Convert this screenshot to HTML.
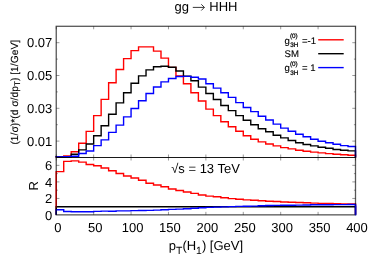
<!DOCTYPE html>
<html><head><meta charset="utf-8"><title>gg to HHH</title>
<style>
html,body{margin:0;padding:0;background:#fff;}
body{width:374px;height:262px;overflow:hidden;}
svg{display:block;font-family:"Liberation Sans",sans-serif;fill:#000;text-rendering:geometricPrecision;}
</style></head><body>
<svg width="374" height="262" viewBox="0 0 374 262">
<rect x="0" y="0" width="374" height="262" fill="#ffffff"/>
<g><path d="M56.25 157.50 L56.25 156.80 L63.73 156.80 L63.73 156.00 L71.21 156.00 L71.21 151.70 L78.69 151.70 L78.69 143.20 L86.17 143.20 L86.17 131.40 L93.66 131.40 L93.66 115.60 L101.14 115.60 L101.14 99.40 L108.62 99.40 L108.62 82.70 L116.10 82.70 L116.10 69.50 L123.58 69.50 L123.58 58.60 L131.06 58.60 L131.06 50.60 L138.54 50.60 L138.54 46.90 L146.03 46.90 L146.03 46.90 L153.51 46.90 L153.51 51.10 L160.99 51.10 L160.99 58.10 L168.47 58.10 L168.47 67.40 L175.95 67.40 L175.95 75.90 L183.43 75.90 L183.43 83.70 L190.91 83.70 L190.91 92.80 L198.39 92.80 L198.39 101.00 L205.88 101.00 L205.88 109.10 L213.36 109.10 L213.36 115.60 L220.84 115.60 L220.84 121.70 L228.32 121.70 L228.32 126.70 L235.80 126.70 L235.80 131.30 L243.28 131.30 L243.28 135.80 L250.76 135.80 L250.76 139.20 L258.24 139.20 L258.24 141.90 L265.73 141.90 L265.73 144.00 L273.21 144.00 L273.21 145.90 L280.69 145.90 L280.69 147.60 L288.17 147.60 L288.17 148.90 L295.65 148.90 L295.65 150.30 L303.13 150.30 L303.13 151.30 L310.61 151.30 L310.61 152.10 L318.09 152.10 L318.09 152.90 L325.57 152.90 L325.57 153.60 L333.06 153.60 L333.06 154.20 L340.54 154.20 L340.54 154.70 L348.02 154.70 L348.02 155.20 L355.50 155.20 L355.50 157.50" fill="none" stroke="#ff0000" stroke-width="1.4" stroke-linejoin="miter"/>
<path d="M56.25 157.50 L56.25 157.00 L63.73 157.00 L63.73 156.70 L71.21 156.70 L71.21 154.30 L78.69 154.30 L78.69 149.90 L86.17 149.90 L86.17 144.00 L93.66 144.00 L93.66 135.80 L101.14 135.80 L101.14 125.70 L108.62 125.70 L108.62 114.20 L116.10 114.20 L116.10 102.90 L123.58 102.90 L123.58 92.80 L131.06 92.80 L131.06 83.20 L138.54 83.20 L138.54 75.90 L146.03 75.90 L146.03 69.90 L153.51 69.90 L153.51 66.80 L160.99 66.80 L160.99 66.30 L168.47 66.30 L168.47 67.30 L175.95 67.30 L175.95 71.00 L183.43 71.00 L183.43 76.10 L190.91 76.10 L190.91 80.80 L198.39 80.80 L198.39 87.10 L205.88 87.10 L205.88 93.50 L213.36 93.50 L213.36 99.50 L220.84 99.50 L220.84 105.50 L228.32 105.50 L228.32 110.60 L235.80 110.60 L235.80 115.60 L243.28 115.60 L243.28 120.20 L250.76 120.20 L250.76 124.80 L258.24 124.80 L258.24 128.80 L265.73 128.80 L265.73 131.80 L273.21 131.80 L273.21 135.30 L280.69 135.30 L280.69 137.90 L288.17 137.90 L288.17 140.50 L295.65 140.50 L295.65 142.70 L303.13 142.70 L303.13 144.50 L310.61 144.50 L310.61 145.90 L318.09 145.90 L318.09 147.30 L325.57 147.30 L325.57 148.30 L333.06 148.30 L333.06 149.50 L340.54 149.50 L340.54 150.30 L348.02 150.30 L348.02 150.90 L355.50 150.90 L355.50 157.50" fill="none" stroke="#000000" stroke-width="1.4" stroke-linejoin="miter"/>
<path d="M56.25 157.50 L56.25 157.00 L63.73 157.00 L63.73 156.80 L71.21 156.80 L71.21 156.30 L78.69 156.30 L78.69 153.50 L86.17 153.50 L86.17 151.00 L93.66 151.00 L93.66 145.60 L101.14 145.60 L101.14 139.90 L108.62 139.90 L108.62 132.40 L116.10 132.40 L116.10 125.10 L123.58 125.10 L123.58 116.90 L131.06 116.90 L131.06 108.50 L138.54 108.50 L138.54 100.80 L146.03 100.80 L146.03 93.50 L153.51 93.50 L153.51 87.00 L160.99 87.00 L160.99 81.90 L168.47 81.90 L168.47 78.50 L175.95 78.50 L175.95 76.50 L183.43 76.50 L183.43 76.40 L190.91 76.40 L190.91 77.20 L198.39 77.20 L198.39 79.00 L205.88 79.00 L205.88 83.70 L213.36 83.70 L213.36 88.10 L220.84 88.10 L220.84 92.80 L228.32 92.80 L228.32 97.40 L235.80 97.40 L235.80 102.60 L243.28 102.60 L243.28 107.50 L250.76 107.50 L250.76 111.60 L258.24 111.60 L258.24 116.30 L265.73 116.30 L265.73 120.00 L273.21 120.00 L273.21 124.10 L280.69 124.10 L280.69 128.10 L288.17 128.10 L288.17 131.30 L295.65 131.30 L295.65 134.20 L303.13 134.20 L303.13 136.80 L310.61 136.80 L310.61 139.20 L318.09 139.20 L318.09 141.20 L325.57 141.20 L325.57 142.80 L333.06 142.80 L333.06 144.20 L340.54 144.20 L340.54 145.60 L348.02 145.60 L348.02 146.50 L355.50 146.50 L355.50 157.50" fill="none" stroke="#0000ff" stroke-width="1.4" stroke-linejoin="miter"/>
<path d="M56.25 214.85 L56.25 171.60 L63.73 171.60 L63.73 161.40 L71.21 161.40 L71.21 160.90 L78.69 160.90 L78.69 162.10 L86.17 162.10 L86.17 164.50 L93.66 164.50 L93.66 165.80 L101.14 165.80 L101.14 167.95 L108.62 167.95 L108.62 170.75 L116.10 170.75 L116.10 173.45 L123.58 173.45 L123.58 175.95 L131.06 175.95 L131.06 178.00 L138.54 178.00 L138.54 180.30 L146.03 180.30 L146.03 183.20 L153.51 183.20 L153.51 185.00 L160.99 185.00 L160.99 186.70 L168.47 186.70 L168.47 189.00 L175.95 189.00 L175.95 190.50 L183.43 190.50 L183.43 192.00 L190.91 192.00 L190.91 193.40 L198.39 193.40 L198.39 195.00 L205.88 195.00 L205.88 196.10 L213.36 196.10 L213.36 196.70 L220.84 196.70 L220.84 197.70 L228.32 197.70 L228.32 198.60 L235.80 198.60 L235.80 199.30 L243.28 199.30 L243.28 199.90 L250.76 199.90 L250.76 200.20 L258.24 200.20 L258.24 200.70 L265.73 200.70 L265.73 201.20 L273.21 201.20 L273.21 201.50 L280.69 201.50 L280.69 202.00 L288.17 202.00 L288.17 202.20 L295.65 202.20 L295.65 202.50 L303.13 202.50 L303.13 202.80 L310.61 202.80 L310.61 203.10 L318.09 203.10 L318.09 203.40 L325.57 203.40 L325.57 203.55 L333.06 203.55 L333.06 203.70 L340.54 203.70 L340.54 203.85 L348.02 203.85 L348.02 203.95 L355.50 203.95 L355.50 214.85" fill="none" stroke="#ff0000" stroke-width="1.4" stroke-linejoin="miter"/>
<path d="M56.25 214.85 L56.25 206.70 L63.73 206.70 L63.73 206.70 L71.21 206.70 L71.21 206.70 L78.69 206.70 L78.69 206.70 L86.17 206.70 L86.17 206.70 L93.66 206.70 L93.66 206.70 L101.14 206.70 L101.14 206.70 L108.62 206.70 L108.62 206.70 L116.10 206.70 L116.10 206.70 L123.58 206.70 L123.58 206.70 L131.06 206.70 L131.06 206.70 L138.54 206.70 L138.54 206.70 L146.03 206.70 L146.03 206.70 L153.51 206.70 L153.51 206.70 L160.99 206.70 L160.99 206.70 L168.47 206.70 L168.47 206.70 L175.95 206.70 L175.95 206.70 L183.43 206.70 L183.43 206.70 L190.91 206.70 L190.91 206.70 L198.39 206.70 L198.39 206.70 L205.88 206.70 L205.88 206.70 L213.36 206.70 L213.36 206.70 L220.84 206.70 L220.84 206.70 L228.32 206.70 L228.32 206.70 L235.80 206.70 L235.80 206.70 L243.28 206.70 L243.28 206.70 L250.76 206.70 L250.76 206.70 L258.24 206.70 L258.24 206.70 L265.73 206.70 L265.73 206.70 L273.21 206.70 L273.21 206.70 L280.69 206.70 L280.69 206.70 L288.17 206.70 L288.17 206.70 L295.65 206.70 L295.65 206.70 L303.13 206.70 L303.13 206.70 L310.61 206.70 L310.61 206.70 L318.09 206.70 L318.09 206.70 L325.57 206.70 L325.57 206.70 L333.06 206.70 L333.06 206.70 L340.54 206.70 L340.54 206.70 L348.02 206.70 L348.02 206.70 L355.50 206.70 L355.50 214.85" fill="none" stroke="#000000" stroke-width="1.4" stroke-linejoin="miter"/>
<path d="M56.25 214.85 L56.25 209.70 L63.73 209.70 L63.73 211.50 L71.21 211.50 L71.21 211.70 L78.69 211.70 L78.69 211.80 L86.17 211.80 L86.17 211.70 L93.66 211.70 L93.66 211.40 L101.14 211.40 L101.14 211.10 L108.62 211.10 L108.62 211.20 L116.10 211.20 L116.10 210.90 L123.58 210.90 L123.58 210.90 L131.06 210.90 L131.06 210.60 L138.54 210.60 L138.54 210.50 L146.03 210.50 L146.03 210.40 L153.51 210.40 L153.51 210.10 L160.99 210.10 L160.99 209.70 L168.47 209.70 L168.47 209.40 L175.95 209.40 L175.95 209.10 L183.43 209.10 L183.43 208.70 L190.91 208.70 L190.91 208.20 L198.39 208.20 L198.39 207.70 L205.88 207.70 L205.88 207.40 L213.36 207.40 L213.36 207.10 L220.84 207.10 L220.84 206.90 L228.32 206.90 L228.32 206.60 L235.80 206.60 L235.80 206.40 L243.28 206.40 L243.28 206.20 L250.76 206.20 L250.76 206.10 L258.24 206.10 L258.24 205.70 L265.73 205.70 L265.73 205.50 L273.21 205.50 L273.21 205.40 L280.69 205.40 L280.69 205.30 L288.17 205.30 L288.17 205.20 L295.65 205.20 L295.65 205.10 L303.13 205.10 L303.13 205.00 L310.61 205.00 L310.61 204.80 L318.09 204.80 L318.09 204.70 L325.57 204.70 L325.57 204.70 L333.06 204.70 L333.06 204.60 L340.54 204.60 L340.54 204.60 L348.02 204.60 L348.02 204.50 L355.50 204.50 L355.50 214.85" fill="none" stroke="#0000ff" stroke-width="1.4" stroke-linejoin="miter"/></g>
<g><line x1="318.20" y1="39.80" x2="343.70" y2="39.80" stroke="#ff0000" stroke-width="1.4" opacity="1"/>
<line x1="318.20" y1="53.70" x2="343.70" y2="53.70" stroke="#000000" stroke-width="1.4" opacity="1"/>
<line x1="318.20" y1="67.60" x2="343.70" y2="67.60" stroke="#0000ff" stroke-width="1.4" opacity="1"/></g>
<g opacity="0.5"><line x1="56.25" y1="214.85" x2="56.25" y2="211.85" stroke="#000" stroke-width="0.8" opacity="1"/>
<line x1="56.25" y1="26.30" x2="56.25" y2="29.30" stroke="#000" stroke-width="0.8" opacity="1"/>
<line x1="56.25" y1="157.50" x2="56.25" y2="154.50" stroke="#000" stroke-width="0.8" opacity="1"/>
<line x1="56.25" y1="157.50" x2="56.25" y2="160.50" stroke="#000" stroke-width="0.8" opacity="1"/>
<line x1="93.66" y1="214.85" x2="93.66" y2="211.85" stroke="#000" stroke-width="0.8" opacity="1"/>
<line x1="93.66" y1="26.30" x2="93.66" y2="29.30" stroke="#000" stroke-width="0.8" opacity="1"/>
<line x1="93.66" y1="157.50" x2="93.66" y2="154.50" stroke="#000" stroke-width="0.8" opacity="1"/>
<line x1="93.66" y1="157.50" x2="93.66" y2="160.50" stroke="#000" stroke-width="0.8" opacity="1"/>
<line x1="131.06" y1="214.85" x2="131.06" y2="211.85" stroke="#000" stroke-width="0.8" opacity="1"/>
<line x1="131.06" y1="26.30" x2="131.06" y2="29.30" stroke="#000" stroke-width="0.8" opacity="1"/>
<line x1="131.06" y1="157.50" x2="131.06" y2="154.50" stroke="#000" stroke-width="0.8" opacity="1"/>
<line x1="131.06" y1="157.50" x2="131.06" y2="160.50" stroke="#000" stroke-width="0.8" opacity="1"/>
<line x1="168.47" y1="214.85" x2="168.47" y2="211.85" stroke="#000" stroke-width="0.8" opacity="1"/>
<line x1="168.47" y1="26.30" x2="168.47" y2="29.30" stroke="#000" stroke-width="0.8" opacity="1"/>
<line x1="168.47" y1="157.50" x2="168.47" y2="154.50" stroke="#000" stroke-width="0.8" opacity="1"/>
<line x1="168.47" y1="157.50" x2="168.47" y2="160.50" stroke="#000" stroke-width="0.8" opacity="1"/>
<line x1="205.88" y1="214.85" x2="205.88" y2="211.85" stroke="#000" stroke-width="0.8" opacity="1"/>
<line x1="205.88" y1="26.30" x2="205.88" y2="29.30" stroke="#000" stroke-width="0.8" opacity="1"/>
<line x1="205.88" y1="157.50" x2="205.88" y2="154.50" stroke="#000" stroke-width="0.8" opacity="1"/>
<line x1="205.88" y1="157.50" x2="205.88" y2="160.50" stroke="#000" stroke-width="0.8" opacity="1"/>
<line x1="243.28" y1="214.85" x2="243.28" y2="211.85" stroke="#000" stroke-width="0.8" opacity="1"/>
<line x1="243.28" y1="26.30" x2="243.28" y2="29.30" stroke="#000" stroke-width="0.8" opacity="1"/>
<line x1="243.28" y1="157.50" x2="243.28" y2="154.50" stroke="#000" stroke-width="0.8" opacity="1"/>
<line x1="243.28" y1="157.50" x2="243.28" y2="160.50" stroke="#000" stroke-width="0.8" opacity="1"/>
<line x1="280.69" y1="214.85" x2="280.69" y2="211.85" stroke="#000" stroke-width="0.8" opacity="1"/>
<line x1="280.69" y1="26.30" x2="280.69" y2="29.30" stroke="#000" stroke-width="0.8" opacity="1"/>
<line x1="280.69" y1="157.50" x2="280.69" y2="154.50" stroke="#000" stroke-width="0.8" opacity="1"/>
<line x1="280.69" y1="157.50" x2="280.69" y2="160.50" stroke="#000" stroke-width="0.8" opacity="1"/>
<line x1="318.09" y1="214.85" x2="318.09" y2="211.85" stroke="#000" stroke-width="0.8" opacity="1"/>
<line x1="318.09" y1="26.30" x2="318.09" y2="29.30" stroke="#000" stroke-width="0.8" opacity="1"/>
<line x1="318.09" y1="157.50" x2="318.09" y2="154.50" stroke="#000" stroke-width="0.8" opacity="1"/>
<line x1="318.09" y1="157.50" x2="318.09" y2="160.50" stroke="#000" stroke-width="0.8" opacity="1"/>
<line x1="355.50" y1="214.85" x2="355.50" y2="211.85" stroke="#000" stroke-width="0.8" opacity="1"/>
<line x1="355.50" y1="26.30" x2="355.50" y2="29.30" stroke="#000" stroke-width="0.8" opacity="1"/>
<line x1="355.50" y1="157.50" x2="355.50" y2="154.50" stroke="#000" stroke-width="0.8" opacity="1"/>
<line x1="355.50" y1="157.50" x2="355.50" y2="160.50" stroke="#000" stroke-width="0.8" opacity="1"/>
<line x1="56.25" y1="141.10" x2="59.45" y2="141.10" stroke="#000" stroke-width="0.8" opacity="1"/>
<line x1="355.50" y1="141.10" x2="352.30" y2="141.10" stroke="#000" stroke-width="0.8" opacity="1"/>
<line x1="56.25" y1="124.70" x2="57.85" y2="124.70" stroke="#000" stroke-width="0.8" opacity="1"/>
<line x1="355.50" y1="124.70" x2="353.90" y2="124.70" stroke="#000" stroke-width="0.8" opacity="1"/>
<line x1="56.25" y1="108.30" x2="59.45" y2="108.30" stroke="#000" stroke-width="0.8" opacity="1"/>
<line x1="355.50" y1="108.30" x2="352.30" y2="108.30" stroke="#000" stroke-width="0.8" opacity="1"/>
<line x1="56.25" y1="91.90" x2="57.85" y2="91.90" stroke="#000" stroke-width="0.8" opacity="1"/>
<line x1="355.50" y1="91.90" x2="353.90" y2="91.90" stroke="#000" stroke-width="0.8" opacity="1"/>
<line x1="56.25" y1="75.50" x2="59.45" y2="75.50" stroke="#000" stroke-width="0.8" opacity="1"/>
<line x1="355.50" y1="75.50" x2="352.30" y2="75.50" stroke="#000" stroke-width="0.8" opacity="1"/>
<line x1="56.25" y1="59.10" x2="57.85" y2="59.10" stroke="#000" stroke-width="0.8" opacity="1"/>
<line x1="355.50" y1="59.10" x2="353.90" y2="59.10" stroke="#000" stroke-width="0.8" opacity="1"/>
<line x1="56.25" y1="42.70" x2="59.45" y2="42.70" stroke="#000" stroke-width="0.8" opacity="1"/>
<line x1="355.50" y1="42.70" x2="352.30" y2="42.70" stroke="#000" stroke-width="0.8" opacity="1"/>
<line x1="56.25" y1="206.72" x2="57.85" y2="206.72" stroke="#000" stroke-width="0.8" opacity="1"/>
<line x1="355.50" y1="206.72" x2="353.90" y2="206.72" stroke="#000" stroke-width="0.8" opacity="1"/>
<line x1="56.25" y1="198.45" x2="59.45" y2="198.45" stroke="#000" stroke-width="0.8" opacity="1"/>
<line x1="355.50" y1="198.45" x2="352.30" y2="198.45" stroke="#000" stroke-width="0.8" opacity="1"/>
<line x1="56.25" y1="190.18" x2="57.85" y2="190.18" stroke="#000" stroke-width="0.8" opacity="1"/>
<line x1="355.50" y1="190.18" x2="353.90" y2="190.18" stroke="#000" stroke-width="0.8" opacity="1"/>
<line x1="56.25" y1="181.90" x2="59.45" y2="181.90" stroke="#000" stroke-width="0.8" opacity="1"/>
<line x1="355.50" y1="181.90" x2="352.30" y2="181.90" stroke="#000" stroke-width="0.8" opacity="1"/>
<line x1="56.25" y1="173.62" x2="57.85" y2="173.62" stroke="#000" stroke-width="0.8" opacity="1"/>
<line x1="355.50" y1="173.62" x2="353.90" y2="173.62" stroke="#000" stroke-width="0.8" opacity="1"/>
<line x1="56.25" y1="165.35" x2="59.45" y2="165.35" stroke="#000" stroke-width="0.8" opacity="1"/>
<line x1="355.50" y1="165.35" x2="352.30" y2="165.35" stroke="#000" stroke-width="0.8" opacity="1"/></g>
<g><rect x="56.25" y="26.30" width="299.25" height="188.55" fill="none" stroke="#000" stroke-width="1.3" opacity="0.66"/>
<line x1="56.25" y1="157.50" x2="355.50" y2="157.50" stroke="#000" stroke-width="1.15" opacity="0.9"/>
<line x1="355.60" y1="204.50" x2="355.60" y2="215.45" stroke="#0000ff" stroke-width="1.6" opacity="0.6"/>
<line x1="56.25" y1="171.60" x2="56.25" y2="207.85" stroke="#ff0000" stroke-width="1.4" opacity="0.35"/></g>
<g style="filter:grayscale(1)"><text x="52.30" y="145.60" font-size="13" text-anchor="end" >0.01</text>
<text x="52.30" y="112.80" font-size="13" text-anchor="end" >0.03</text>
<text x="52.30" y="80.00" font-size="13" text-anchor="end" >0.05</text>
<text x="52.30" y="47.20" font-size="13" text-anchor="end" >0.07</text>
<text x="52.30" y="219.65" font-size="13" text-anchor="end" >0</text>
<text x="52.30" y="203.10" font-size="13" text-anchor="end" >2</text>
<text x="52.30" y="186.55" font-size="13" text-anchor="end" >4</text>
<text x="52.30" y="170.00" font-size="13" text-anchor="end" >6</text>
<text x="57.75" y="232.30" font-size="13" text-anchor="middle" >0</text>
<text x="95.16" y="232.30" font-size="13" text-anchor="middle" >50</text>
<text x="132.56" y="232.30" font-size="13" text-anchor="middle" >100</text>
<text x="169.97" y="232.30" font-size="13" text-anchor="middle" >150</text>
<text x="207.38" y="232.30" font-size="13" text-anchor="middle" >200</text>
<text x="244.78" y="232.30" font-size="13" text-anchor="middle" >250</text>
<text x="282.19" y="232.30" font-size="13" text-anchor="middle" >300</text>
<text x="319.59" y="232.30" font-size="13" text-anchor="middle" >350</text>
<text x="357.00" y="232.30" font-size="13" text-anchor="middle" >400</text>
<text x="174.58" y="11.40" font-size="13" text-anchor="start" >gg</text>
<text x="209.27" y="11.40" font-size="13" text-anchor="start" >HHH</text>
<path d="M192.8 7.4 L204.4 7.4 M201.3 4.3 L204.4 7.4 L201.3 10.5" fill="none" stroke="#222" stroke-width="0.9"/>
<text x="171.20" y="173.00" font-size="13" text-anchor="start" >&#8730;s = 13 TeV</text>
<text x="168.8" y="250.3" font-size="13" text-anchor="start">p<tspan font-size="10.4" dy="4">T</tspan><tspan dy="-4">(H</tspan><tspan font-size="10.4" dy="4">1</tspan><tspan dy="-4">) [GeV]</tspan></text>
<text x="38.50" y="185.70" font-size="13" text-anchor="middle" transform="rotate(-90 38.5 185.7)">R</text>
<text font-size="10.3" text-anchor="start" stroke="#000" stroke-width="0.12" transform="translate(17.9 144.6) rotate(-90)">(1/&#963;)*(d &#963;/dp<tspan font-size="8.2" dy="2">T</tspan><tspan dy="-2">) [1/GeV]</tspan></text>
<text x="284.6" y="43.50" font-size="9.6" text-anchor="start" stroke="#000" stroke-width="0.12">g<tspan font-size="6.4" dy="-5.2" stroke="#000" stroke-width="0.22">(0)</tspan><tspan font-size="6.4" dy="8.3" dx="-7.6" stroke="#000" stroke-width="0.22">3H</tspan><tspan dy="-3.1" dx="3.6">=-1</tspan></text>
<text x="284.6" y="56.70" font-size="9.6" text-anchor="start" stroke="#000" stroke-width="0.12">SM</text>
<text x="284.6" y="71.40" font-size="9.6" text-anchor="start" stroke="#000" stroke-width="0.12">g<tspan font-size="6.4" dy="-5.2" stroke="#000" stroke-width="0.22">(0)</tspan><tspan font-size="6.4" dy="8.3" dx="-7.6" stroke="#000" stroke-width="0.22">3H</tspan><tspan dy="-3.1" dx="3.6">= 1</tspan></text></g>
</svg>
</body></html>
